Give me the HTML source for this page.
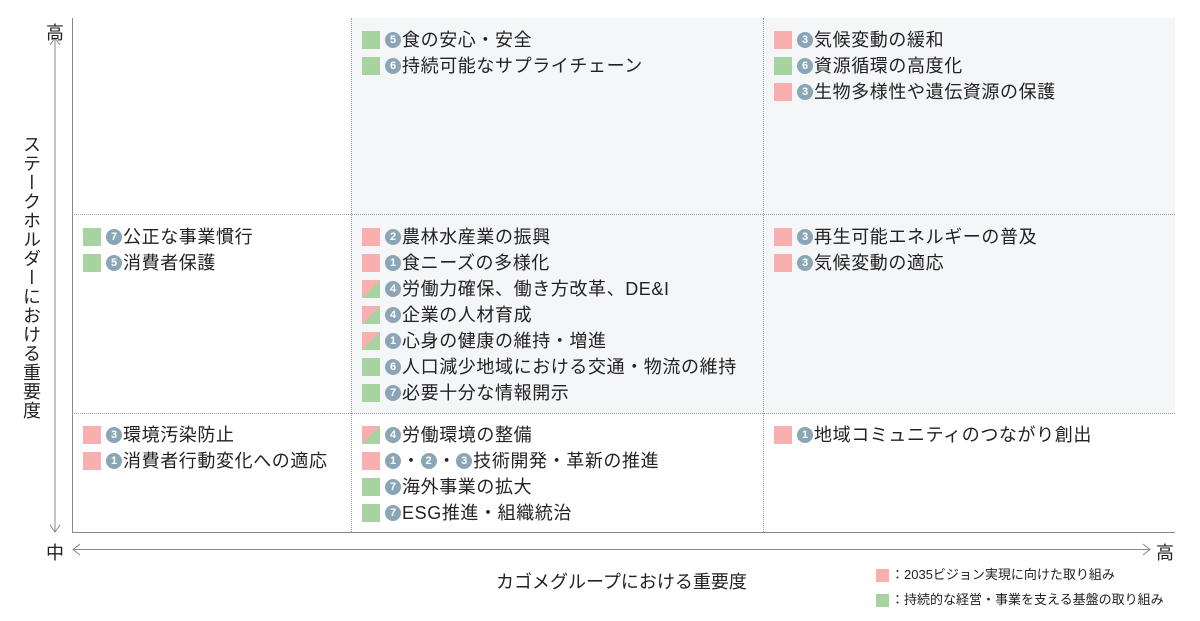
<!DOCTYPE html>
<html><head><meta charset="utf-8"><style>
body{margin:0;width:1200px;height:621px;background:#fff;font-family:"Liberation Sans","Noto Sans CJK JP",sans-serif;color:#222;position:relative;overflow:hidden}
.abs{position:absolute}
.bg{position:absolute;background:#f5f6f8}
.it{position:absolute;height:20px;font-size:18px;letter-spacing:0.6px;line-height:20px;white-space:nowrap;display:flex;align-items:center}
.sq{width:18px;height:18px;margin-right:5px;flex:none}
.p{background:#f9aeb0}.g{background:#a6d39f}
.m{background:linear-gradient(135deg,#f9aeb0 50%,#a6d39f 50%)}
.c{display:inline-block;width:16px;height:16px;border-radius:50%;background:#8aa6b6;color:#fff;font-size:11px;letter-spacing:0;line-height:16px;text-align:center;font-weight:bold;margin-right:1px;flex:none}
</style></head><body>
<div class="bg" style="left:351px;top:18px;width:824px;height:395px"></div>
<div class="abs" style="left:72px;top:18px;width:1px;height:515px;background:#888"></div>
<div class="abs" style="left:72px;top:532px;width:1103px;height:1px;background:#888"></div>
<div class="abs" style="left:351px;top:18px;height:514px;border-left:1px dotted #999"></div>
<div class="abs" style="left:763px;top:18px;height:514px;border-left:1px dotted #999"></div>
<div class="abs" style="left:72px;top:214px;width:1103px;border-top:1px dotted #999"></div>
<div class="abs" style="left:72px;top:413px;width:1103px;border-top:1px dotted #999"></div>
<svg class="abs" style="left:0;top:0" width="1200" height="621">
<g stroke="#888" fill="none" stroke-width="1">
<line x1="55" y1="38" x2="55" y2="532"/><polyline points="50,45 55,38 60,45"/><polyline points="50,525 55,532 60,525"/>
<line x1="73" y1="549.5" x2="1150" y2="549.5"/><polyline points="80,544 73,549.5 80,555"/><polyline points="1143,544 1150,549.5 1143,555"/>
</g></svg>
<div class="abs" style="left:46px;top:19px;font-size:18px">高</div>
<div class="abs" style="left:46px;top:539px;font-size:18px">中</div>
<div class="abs" style="left:1156px;top:539px;font-size:18px">高</div>
<div class="abs" style="left:18px;top:135px;font-size:18px;writing-mode:vertical-rl;letter-spacing:1px">ステークホルダーにおける重要度</div>
<div class="abs" style="left:496px;top:568px;font-size:18px">カゴメグループにおける重要度</div>
<div class="it" style="left:876px;top:567px;font-size:13px;letter-spacing:0;height:16px"><span class="sq p" style="width:13px;height:13px;margin-right:2px"></span>：2035ビジョン実現に向けた取り組み</div>
<div class="it" style="left:876px;top:592px;font-size:13px;letter-spacing:0;height:16px"><span class="sq g" style="width:13px;height:13px;margin-right:2px"></span>：持続的な経営・事業を支える基盤の取り組み</div>

<div class="it" style="left:362px;top:30px"><span class="sq g"></span><span class="c">5</span>食の安心・安全</div>
<div class="it" style="left:362px;top:56px"><span class="sq g"></span><span class="c">6</span>持続可能なサプライチェーン</div>

<div class="it" style="left:774px;top:30px"><span class="sq p"></span><span class="c">3</span>気候変動の緩和</div>
<div class="it" style="left:774px;top:56px"><span class="sq g"></span><span class="c">6</span>資源循環の高度化</div>
<div class="it" style="left:774px;top:82px"><span class="sq p"></span><span class="c">3</span>生物多様性や遺伝資源の保護</div>

<div class="it" style="left:83px;top:227px"><span class="sq g"></span><span class="c">7</span>公正な事業慣行</div>
<div class="it" style="left:83px;top:253px"><span class="sq g"></span><span class="c">5</span>消費者保護</div>

<div class="it" style="left:362px;top:227px"><span class="sq p"></span><span class="c">2</span>農林水産業の振興</div>
<div class="it" style="left:362px;top:253px"><span class="sq p"></span><span class="c">1</span>食ニーズの多様化</div>
<div class="it" style="left:362px;top:279px"><span class="sq m"></span><span class="c">4</span>労働力確保、働き方改革、DE&amp;I</div>
<div class="it" style="left:362px;top:305px"><span class="sq m"></span><span class="c">4</span>企業の人材育成</div>
<div class="it" style="left:362px;top:331px"><span class="sq m"></span><span class="c">1</span>心身の健康の維持・増進</div>
<div class="it" style="left:362px;top:357px"><span class="sq g"></span><span class="c">6</span>人口減少地域における交通・物流の維持</div>
<div class="it" style="left:362px;top:383px"><span class="sq g"></span><span class="c">7</span>必要十分な情報開示</div>

<div class="it" style="left:774px;top:227px"><span class="sq p"></span><span class="c">3</span>再生可能エネルギーの普及</div>
<div class="it" style="left:774px;top:253px"><span class="sq p"></span><span class="c">3</span>気候変動の適応</div>

<div class="it" style="left:83px;top:425px"><span class="sq p"></span><span class="c">3</span>環境汚染防止</div>
<div class="it" style="left:83px;top:451px"><span class="sq p"></span><span class="c">1</span>消費者行動変化への適応</div>

<div class="it" style="left:362px;top:425px"><span class="sq m"></span><span class="c">4</span>労働環境の整備</div>
<div class="it" style="left:362px;top:451px"><span class="sq p"></span><span class="c">1</span>・<span class="c">2</span>・<span class="c">3</span>技術開発・革新の推進</div>
<div class="it" style="left:362px;top:477px"><span class="sq g"></span><span class="c">7</span>海外事業の拡大</div>
<div class="it" style="left:362px;top:503px"><span class="sq g"></span><span class="c">7</span>ESG推進・組織統治</div>

<div class="it" style="left:774px;top:425px"><span class="sq p"></span><span class="c">1</span>地域コミュニティのつながり創出</div>
</body></html>
